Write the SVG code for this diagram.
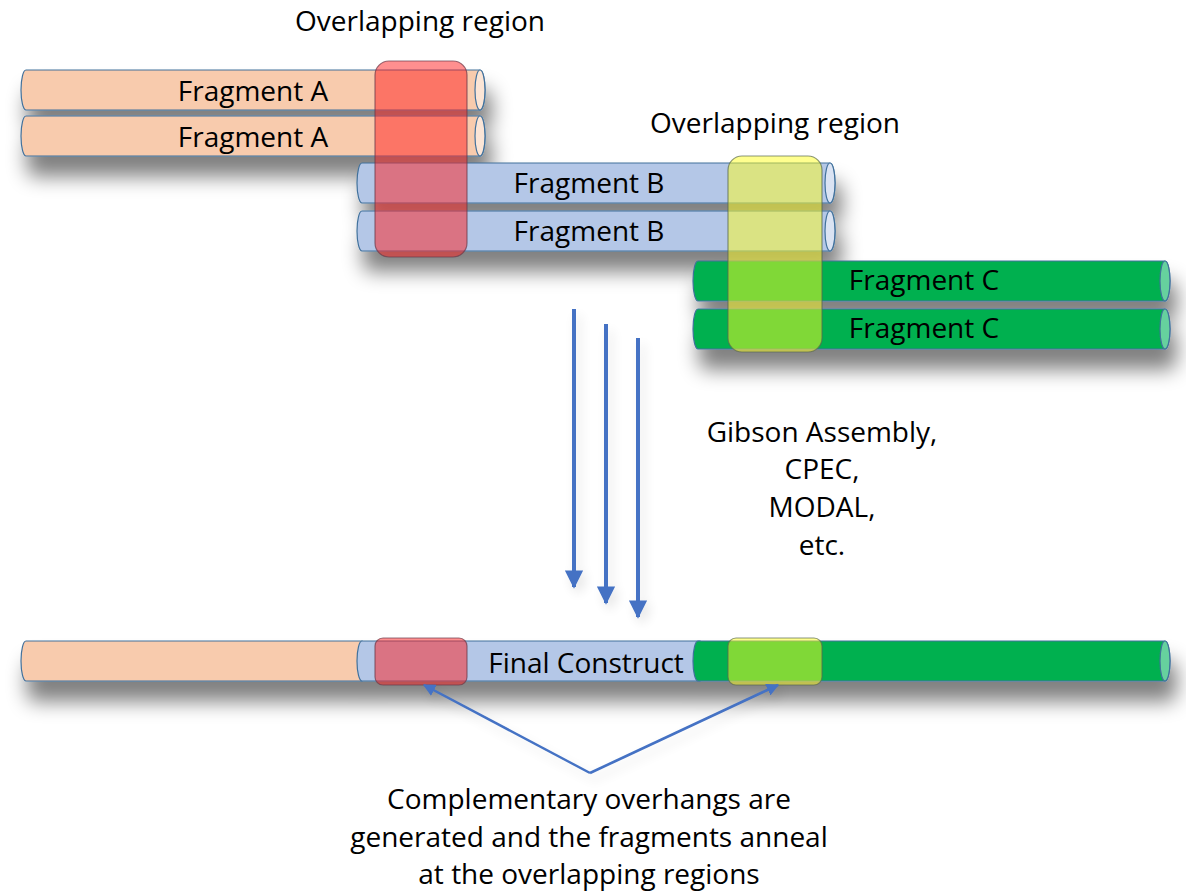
<svg xmlns="http://www.w3.org/2000/svg" width="1186" height="892" viewBox="0 0 1186 892">
  <defs>
    <filter id="shadow" x="-10%" y="-80%" width="125%" height="320%">
      <feGaussianBlur in="SourceAlpha" stdDeviation="10"/>
      <feOffset dx="6" dy="20" result="b"/>
      <feComponentTransfer><feFuncA type="linear" slope="0.5"/></feComponentTransfer>
      <feMerge><feMergeNode/><feMergeNode in="SourceGraphic"/></feMerge>
    </filter>
    <filter id="soft" x="-20%" y="-5%" width="140%" height="110%">
      <feGaussianBlur in="SourceAlpha" stdDeviation="6"/>
      <feOffset dx="4" dy="6"/>
      <feComponentTransfer><feFuncA type="linear" slope="0.12"/></feComponentTransfer>
      <feMerge><feMergeNode/><feMergeNode in="SourceGraphic"/></feMerge>
    </filter>
    <marker id="head" viewBox="0 0 10 10" refX="9" refY="5" markerWidth="4.6" markerHeight="4.6" orient="auto" markerUnits="strokeWidth">
      <path d="M0,0 L10,5 L0,10 Z" fill="#4472c4"/>
    </marker>
    <marker id="headSmall" viewBox="0 0 10 10" refX="9" refY="5" markerWidth="5" markerHeight="5" orient="auto" markerUnits="strokeWidth">
      <path d="M0,0 L10,5 L0,10 Z" fill="#4472c4"/>
    </marker>
  </defs>
  <style>
    .lbl { font-family: "Open Sans", "Liberation Sans", sans-serif; font-size: 28px; fill: #000; text-anchor: middle; }
    .body { stroke: #41719c; stroke-width: 1.2; }
    .peach { fill: #f8cbad; }
    .peachFace { fill: #fbe5d6; }
    .blue { fill: #b4c7e7; }
    .blueFace { fill: #dae3f3; }
    .green { fill: #00b050; }
    .greenFace { fill: #66d19e; }
    .red { fill: #ff1f1f; fill-opacity: 0.5; stroke: #6b3a4a; stroke-opacity: 0.7; stroke-width: 1.2; }
    .yellow { fill: #ffff20; fill-opacity: 0.5; stroke: #5a6a50; stroke-opacity: 0.7; stroke-width: 1.2; }
    .arrow { stroke: #4472c4; stroke-width: 4; fill: none; }
    .pointer { stroke: #4472c4; stroke-width: 2.5; fill: none; }
  </style>

  <rect width="1186" height="892" fill="#ffffff"/>

  <!-- fragment A pair -->
  <g id="fragmentA" filter="url(#shadow)">
    <path class="body peach" d="M26,70 L480,70 A5,20 0 0 1 480,110 L26,110 A5,20 0 0 1 26,70 Z"/>
    <ellipse class="body peachFace" cx="480" cy="90" rx="5" ry="20"/>
    <path class="body peach" d="M26,116 L480,116 A5,20 0 0 1 480,156 L26,156 A5,20 0 0 1 26,116 Z"/>
    <ellipse class="body peachFace" cx="480" cy="136" rx="5" ry="20"/>
  </g>
  <text class="lbl" x="253" y="101">Fragment A</text>
  <text class="lbl" x="253" y="147">Fragment A</text>

  <!-- fragment B pair -->
  <g id="fragmentB" filter="url(#shadow)">
    <path class="body blue" d="M362,163 L830,163 A5,20 0 0 1 830,203 L362,203 A5,20 0 0 1 362,163 Z"/>
    <ellipse class="body blueFace" cx="830" cy="183" rx="5" ry="20"/>
    <path class="body blue" d="M362,211 L830,211 A5,20 0 0 1 830,251 L362,251 A5,20 0 0 1 362,211 Z"/>
    <ellipse class="body blueFace" cx="830" cy="231" rx="5" ry="20"/>
  </g>
  <text class="lbl" x="589" y="193">Fragment B</text>
  <text class="lbl" x="589" y="241">Fragment B</text>

  <!-- fragment C pair -->
  <g id="fragmentC" filter="url(#shadow)">
    <path class="body green" d="M698,261 L1165,261 A5,20 0 0 1 1165,301 L698,301 A5,20 0 0 1 698,261 Z"/>
    <ellipse class="body greenFace" cx="1165" cy="281" rx="5" ry="20"/>
    <path class="body green" d="M698,309 L1165,309 A5,20 0 0 1 1165,349 L698,349 A5,20 0 0 1 698,309 Z"/>
    <ellipse class="body greenFace" cx="1165" cy="329" rx="5" ry="20"/>
  </g>
  <text class="lbl" x="924" y="290">Fragment C</text>
  <text class="lbl" x="924" y="338">Fragment C</text>

  <!-- overlap zones -->
  <g id="overlapAB">
    <rect class="red" x="375" y="61" width="92" height="196" rx="14"/>
  </g>
  <g id="overlapBC">
    <rect class="yellow" x="728" y="156" width="94" height="196" rx="14"/>
  </g>
  <text class="lbl" x="420" y="31">Overlapping region</text>
  <text class="lbl" x="775" y="133">Overlapping region</text>

  <!-- assembled product -->
  <g id="finalConstruct" filter="url(#shadow)">
    <path class="body peach" d="M26,641 L362,641 L362,681 L26,681 A5,20 0 0 1 26,641 Z"/>
    <path class="body blue" d="M362,641 L700,641 L700,681 L362,681 A5,20 0 0 1 362,641 Z"/>
    <path class="body green" d="M698,641 L1165,641 A5,20 0 0 1 1165,681 L698,681 A5,20 0 0 1 698,641 Z"/>
    <ellipse class="body greenFace" cx="1165" cy="661" rx="5" ry="20"/>
  </g>
  <g id="finalOverlaps">
    <rect class="red" x="375" y="638" width="92" height="47" rx="8"/>
    <rect class="yellow" x="728" y="638" width="94" height="47" rx="8"/>
  </g>
  <text class="lbl" x="586" y="673">Final Construct</text>

  <!-- method label -->
  <g id="methods">
    <text class="lbl" x="822" y="442">Gibson Assembly,</text>
    <text class="lbl" x="822" y="479">CPEC,</text>
    <text class="lbl" x="822" y="517">MODAL,</text>
    <text class="lbl" x="822" y="555">etc.</text>
  </g>

  <!-- note -->
  <g id="note">
    <text class="lbl" x="589" y="809">Complementary overhangs are</text>
    <text class="lbl" x="589" y="847">generated and the fragments anneal</text>
    <text class="lbl" x="589" y="884">at the overlapping regions</text>
  </g>

  <!-- connectors -->
  <g id="connectors" filter="url(#soft)">
    <line class="arrow" x1="574" y1="309" x2="574" y2="587" marker-end="url(#head)"/>
    <line class="arrow" x1="606" y1="324" x2="606" y2="603" marker-end="url(#head)"/>
    <line class="arrow" x1="638" y1="338" x2="638" y2="617" marker-end="url(#head)"/>
    <line class="pointer" x1="590" y1="773" x2="424" y2="685" marker-end="url(#headSmall)"/>
    <line class="pointer" x1="590" y1="773" x2="778" y2="685" marker-end="url(#headSmall)"/>
  </g>
</svg>
